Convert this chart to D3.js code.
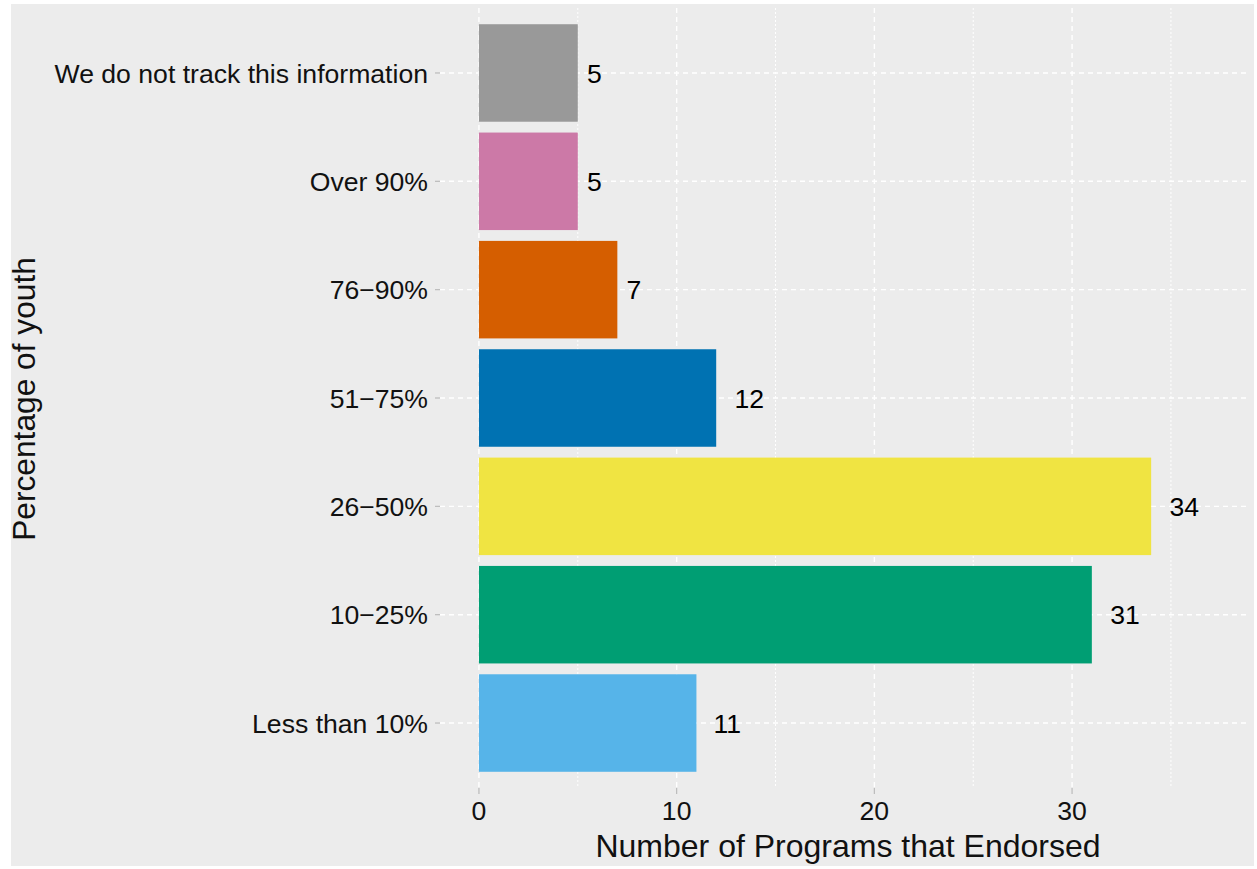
<!DOCTYPE html>
<html>
<head>
<meta charset="utf-8">
<script src="https://cdn.jsdelivr.net/npm/d3@7"></script>
<style>
  html, body { margin: 0; padding: 0; background: #fff; }
  text { font-family: "Liberation Sans", Arial, sans-serif; }
</style>
</head>
<body>
<svg id="chart" width="1257" height="869"></svg>
<script>
// Data — top to bottom as in the picture
const categories = ['We do not track this information', 'Over 90%', '76\u221290%', '51\u221275%', '26\u221250%', '10\u221225%', 'Less than 10%'];
const counts     = [5, 5, 7, 12, 34, 31, 11];
const barColors  = ['#999999', '#CC79A7', '#D55E00', '#0072B2', '#F0E442', '#009E73', '#56B4E9'];
const majorTicks = [0, 10, 20, 30];
const minorTicks = [5, 15, 25, 35];

const svg = d3.select('#chart');
const bg = '#ECECEC';

// Background
svg.append('rect')
  .attr('x', 11).attr('y', 4).attr('width', 1243).attr('height', 862)
  .attr('fill', bg);

// Panel geometry
const panel = { left: 440, right: 1250, top: 8, bottom: 788 };

const x = d3.scaleLinear().domain([-1.97, 39]).range([panel.left, panel.right]);
const y = d3.scaleBand().domain(categories)
  .range([18.8, 777.2])
  .paddingInner(0.1).paddingOuter(0.05);

const g = svg.append('g');

// Minor gridlines (dotted)
g.selectAll('.minor').data(minorTicks).enter().append('line')
  .attr('x1', d => x(d)).attr('x2', d => x(d))
  .attr('y1', panel.top).attr('y2', panel.bottom)
  .attr('stroke', '#fff').attr('stroke-width', 1)
  .attr('stroke-dasharray', '2 2');

// Major vertical gridlines (dashed)
g.selectAll('.majorx').data(majorTicks).enter().append('line')
  .attr('x1', d => x(d)).attr('x2', d => x(d))
  .attr('y1', panel.top).attr('y2', panel.bottom)
  .attr('stroke', '#fff').attr('stroke-width', 1.4)
  .attr('stroke-dasharray', '5 4');

// Major horizontal gridlines (dashed)
g.selectAll('.majory').data(categories).enter().append('line')
  .attr('x1', panel.left).attr('x2', panel.right)
  .attr('y1', d => y(d) + y.bandwidth() / 2).attr('y2', d => y(d) + y.bandwidth() / 2)
  .attr('stroke', '#fff').attr('stroke-width', 1.4)
  .attr('stroke-dasharray', '5 4');

// Bars
g.selectAll('.bar').data(categories).enter().append('rect')
  .attr('x', x(0))
  .attr('y', d => y(d))
  .attr('width', (d, i) => x(counts[i]) - x(0))
  .attr('height', y.bandwidth())
  .attr('fill', (d, i) => barColors[i]);

// Value labels (hjust ≈ -0.65)
g.selectAll('.val').data(categories).enter().append('text')
  .attr('y', d => y(d) + y.bandwidth() / 2)
  .attr('dy', '0.36em')
  .attr('font-size', 26.6).attr('fill', '#000')
  .text((d, i) => counts[i])
  .each(function(d, i) {
    const w = this.getComputedTextLength();
    d3.select(this).attr('x', x(counts[i]) + 0.62 * w);
  });

// Y axis ticks + labels
categories.forEach(c => {
  const cy = y(c) + y.bandwidth() / 2;
  g.append('line')
    .attr('x1', panel.left - 5).attr('x2', panel.left)
    .attr('y1', cy).attr('y2', cy)
    .attr('stroke', '#bbb').attr('stroke-width', 1.2);
  g.append('text')
    .attr('x', panel.left - 12).attr('y', cy)
    .attr('dy', '0.36em').attr('text-anchor', 'end')
    .attr('font-size', 26.6).attr('fill', '#111')
    .text(c);
});

// X axis ticks + labels
majorTicks.forEach(t => {
  g.append('line')
    .attr('x1', x(t)).attr('x2', x(t))
    .attr('y1', panel.bottom).attr('y2', panel.bottom + 6)
    .attr('stroke', '#bbb').attr('stroke-width', 1.2);
  g.append('text')
    .attr('x', x(t)).attr('y', 820)
    .attr('text-anchor', 'middle')
    .attr('font-size', 26.6).attr('fill', '#111')
    .text(t);
});

// Axis titles
svg.append('text')
  .attr('x', 848).attr('y', 857)
  .attr('text-anchor', 'middle')
  .attr('font-size', 32).attr('fill', '#111')
  .text('Number of Programs that Endorsed');

svg.append('text')
  .attr('transform', 'translate(35,399) rotate(-90)')
  .attr('text-anchor', 'middle')
  .attr('font-size', 31.7).attr('fill', '#111')
  .text('Percentage of youth');
</script>
</body>
</html>
